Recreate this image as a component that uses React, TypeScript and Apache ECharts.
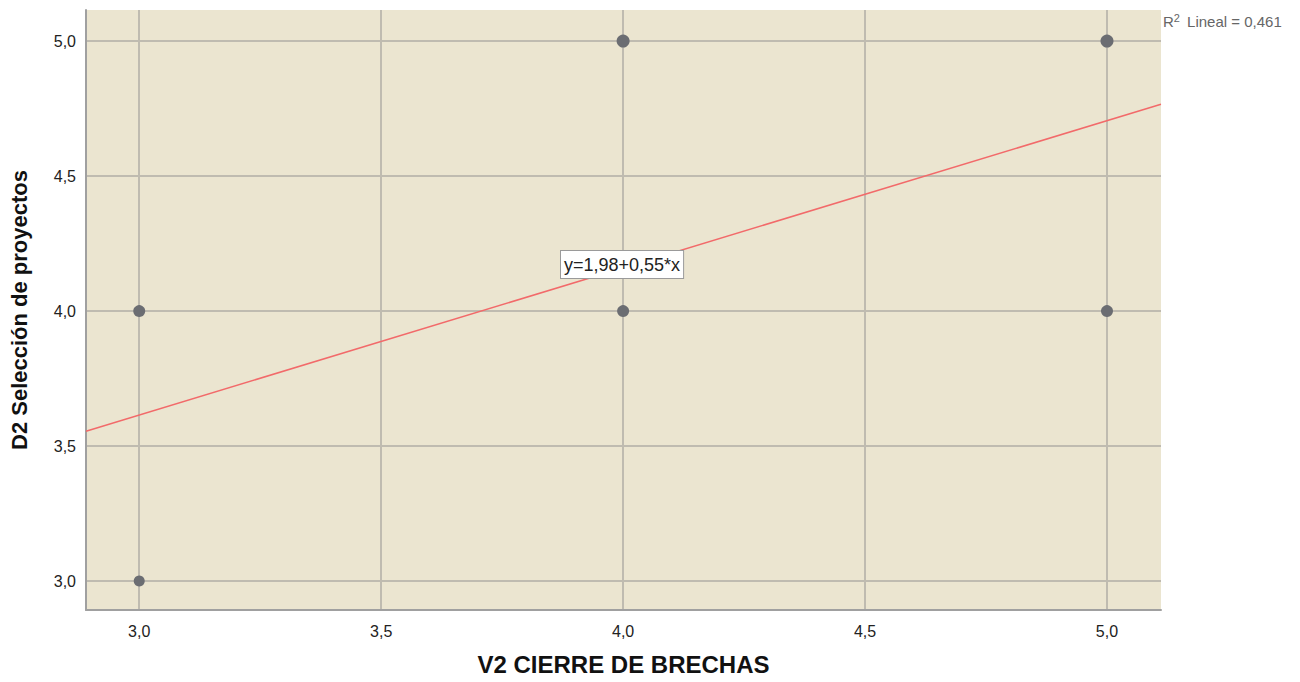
import React, { useEffect, useRef } from "react";
import * as echarts from "echarts";

const xTicks = [3.0, 3.5, 4.0, 4.5, 5.0];
const yTicks = [3.0, 3.5, 4.0, 4.5, 5.0];
const pointsX = [3, 3, 4, 4, 5, 5];
const pointsY = [4, 3, 5, 4, 5, 4];
const pointSizes = [12, 11, 13, 12, 13, 12];
const INTERCEPT = 1.98;
const SLOPE = 0.545;
const X_MIN = 2.89;
const X_MAX = 5.1116;
const Y_MIN = 2.893;
const Y_MAX = 5.115;
const EQUATION = "y=1,98+0,55*x";
const R2_VALUE = "0,461";
const X_TITLE = "V2 CIERRE DE BRECHAS";
const Y_TITLE = "D2 Selección de proyectos";

const fmt = (v: number) => v.toFixed(1).replace(".", ",");

export default function App() {
  const ref = useRef<HTMLDivElement>(null);
  useEffect(() => {
    if (!ref.current) return;
    const chart = echarts.init(ref.current, null, { renderer: "svg" });
    const font = "Liberation Sans, Arial, sans-serif";
    const scatterData = pointsX.map((x, i) => ({
      value: [x, pointsY[i]],
      symbolSize: pointSizes[i],
    }));
    const lineData = [
      [X_MIN, INTERCEPT + SLOPE * X_MIN],
      [X_MAX, INTERCEPT + SLOPE * X_MAX],
    ];
    const gridLine = { show: true, lineStyle: { color: "#bfbbb0", width: 2 } };
    chart.setOption({
      animation: false,
      backgroundColor: "#ffffff",
      grid: {
        left: 86,
        top: 10,
        right: 139,
        bottom: 72,
        show: true,
        backgroundColor: "#ebe5d0",
        borderWidth: 0,
        containLabel: false,
        outerBoundsMode: "none",
      },
      xAxis: {
        type: "value",
        min: X_MIN,
        max: X_MAX,
        axisLine: { show: true, lineStyle: { color: "#a0a0a0", width: 2 } },
        axisTick: { show: false, customValues: xTicks },
        axisLabel: {
          customValues: xTicks,
          formatter: (v: number) => fmt(v),
          color: "#222",
          fontSize: 16,
          fontFamily: font,
          margin: 13,
        },
        splitLine: gridLine,
        name: X_TITLE,
        nameLocation: "middle",
        nameGap: 42,
        nameTextStyle: { fontSize: 24, fontWeight: "bold", color: "#111", fontFamily: font },
      },
      yAxis: {
        type: "value",
        min: Y_MIN,
        max: Y_MAX,
        axisLine: { show: true, lineStyle: { color: "#a0a0a0", width: 2 } },
        axisTick: { show: false, customValues: yTicks },
        axisLabel: {
          customValues: yTicks,
          formatter: (v: number) => fmt(v),
          color: "#222",
          fontSize: 16,
          fontFamily: font,
          margin: 10,
        },
        splitLine: gridLine,
        name: Y_TITLE,
        nameLocation: "middle",
        nameGap: 56,
        nameTextStyle: { fontSize: 22, fontWeight: "bold", color: "#111", fontFamily: font },
      },
      series: [
        {
          type: "line",
          data: lineData,
          showSymbol: false,
          symbol: "none",
          lineStyle: { color: "#f26a6a", width: 1.5 },
          silent: true,
          z: 2,
        },
        {
          type: "scatter",
          data: scatterData,
          itemStyle: { color: "#6b6d72", opacity: 1 },
          z: 3,
        },
      ],
      graphic: [
        {
          type: "text",
          left: 560,
          top: 250,
          z: 10,
          style: {
            text: EQUATION,
            fontSize: 18,
            fontFamily: font,
            fill: "#222",
            backgroundColor: "#ffffff",
            borderColor: "#9a9a9a",
            borderWidth: 1,
            padding: [5, 3, 4, 3],
          },
        },
        {
          type: "text",
          left: 1163,
          top: 12,
          style: {
            text: "R{sup|2} Lineal = " + R2_VALUE,
            fontSize: 15,
            fontFamily: font,
            fill: "#666",
            rich: {
              sup: { fontSize: 11, fill: "#666", verticalAlign: "top", padding: [0, 3, 7, 0] },
            },
          },
        },
      ],
    });
    return () => chart.dispose();
  }, []);
  return (
    <div
      ref={ref}
      style={{ position: "fixed", left: 0, top: 0, width: 1300, height: 682 }}
    />
  );
}
